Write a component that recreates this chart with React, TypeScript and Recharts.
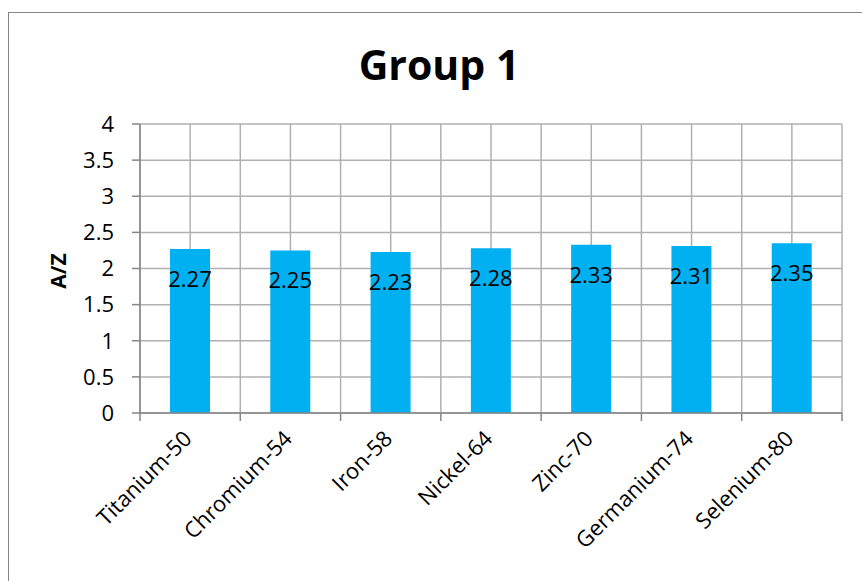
import { Bar, BarChart, CartesianGrid, LabelList, XAxis, YAxis } from "recharts";

const isotopes = ["Titanium-50", "Chromium-54", "Iron-58", "Nickel-64", "Zinc-70", "Germanium-74", "Selenium-80"];
const azRatios = [2.27, 2.25, 2.23, 2.28, 2.33, 2.31, 2.35];
const yTicks = [0, 0.5, 1, 1.5, 2, 2.5, 3, 3.5, 4];

const data = isotopes.map((name, i) => ({ name, az: azRatios[i] }));

const CHART_W = 860;
const CHART_H = 580;
const MARGIN = { top: 111, right: 27, left: 0, bottom: 80 };
const Y_AXIS_W = 131;
const PLOT_W = CHART_W - MARGIN.left - MARGIN.right - Y_AXIS_W;
const BAND = PLOT_W / isotopes.length;

const FONT = "'Open Sans', 'Noto Sans', sans-serif";
const AXIS = "#868686";
const GRID = "#b0b0b0";

function CategoryTick(props: any) {
  const { x, y, payload, index } = props;
  const ax = x + 3;
  const ay = y + 27;
  return (
    <g>
      <line x1={x - BAND / 2} y1={y} x2={x - BAND / 2} y2={y + 8} stroke={AXIS} strokeWidth={1.5} />
      {index === isotopes.length - 1 && (
        <line x1={x + BAND / 2} y1={y} x2={x + BAND / 2} y2={y + 8} stroke={AXIS} strokeWidth={1.5} />
      )}
      <text
        x={ax}
        y={ay}
        transform={`rotate(-45, ${ax}, ${ay})`}
        textAnchor="end"
        fill="#000"
        fontSize={22}
        fontFamily={FONT}
      >
        {payload.value}
      </text>
    </g>
  );
}

function ValueLabel(props: any) {
  const { x, y, width, value } = props;
  return (
    <text
      x={x + width / 2}
      y={y + 29}
      textAnchor="middle"
      dominantBaseline="central"
      fill="#000"
      fontSize={22}
      fontFamily={FONT}
    >
      {value}
    </text>
  );
}

export default function App() {
  return (
    <div
      style={{
        position: "fixed",
        left: 8,
        top: 12,
        width: 880,
        height: 600,
        border: `1px solid ${AXIS}`,
        background: "#fff",
      }}
    >
      <BarChart width={CHART_W} height={CHART_H} data={data} margin={MARGIN}>
        <CartesianGrid
          stroke={GRID}
          strokeWidth={1.5}
          verticalCoordinatesGenerator={({ offset }: any) =>
            Array.from({ length: isotopes.length * 2 + 1 }, (_, i) => offset.left + (offset.width * i) / (isotopes.length * 2))
          }
        />
        <XAxis
          dataKey="name"
          interval={0}
          height={100}
          tickLine={false}
          tickSize={0}
          tickMargin={0}
          axisLine={{ stroke: AXIS, strokeWidth: 1.5 }}
          tick={<CategoryTick />}
        />
        <YAxis
          width={Y_AXIS_W}
          domain={[0, 4]}
          ticks={yTicks}
          interval={0}
          tickSize={8}
          tickMargin={18}
          axisLine={{ stroke: AXIS, strokeWidth: 1.5 }}
          tickLine={{ stroke: AXIS, strokeWidth: 1.5 }}
          tick={{ fill: "#000", fontSize: 22, fontFamily: FONT }}
        />
        <Bar dataKey="az" fill="#00b0f0" barSize={40} isAnimationActive={false}>
          <LabelList dataKey="az" content={<ValueLabel />} />
        </Bar>
      </BarChart>
      <svg
        width={CHART_W}
        height={CHART_H}
        style={{ position: "absolute", left: 0, top: 0, pointerEvents: "none" }}
      >
        <text x={430} y={67} textAnchor="middle" fontSize={41} fontWeight="bold" fontFamily={FONT} fill="#000">
          Group 1
        </text>
        <text
          x={49}
          y={258}
          transform="rotate(-90, 49, 258)"
          textAnchor="middle"
          dominantBaseline="central"
          fontSize={21}
          fontWeight="bold"
          fontFamily={FONT}
          fill="#000"
        >
          A/Z
        </text>
      </svg>
    </div>
  );
}
